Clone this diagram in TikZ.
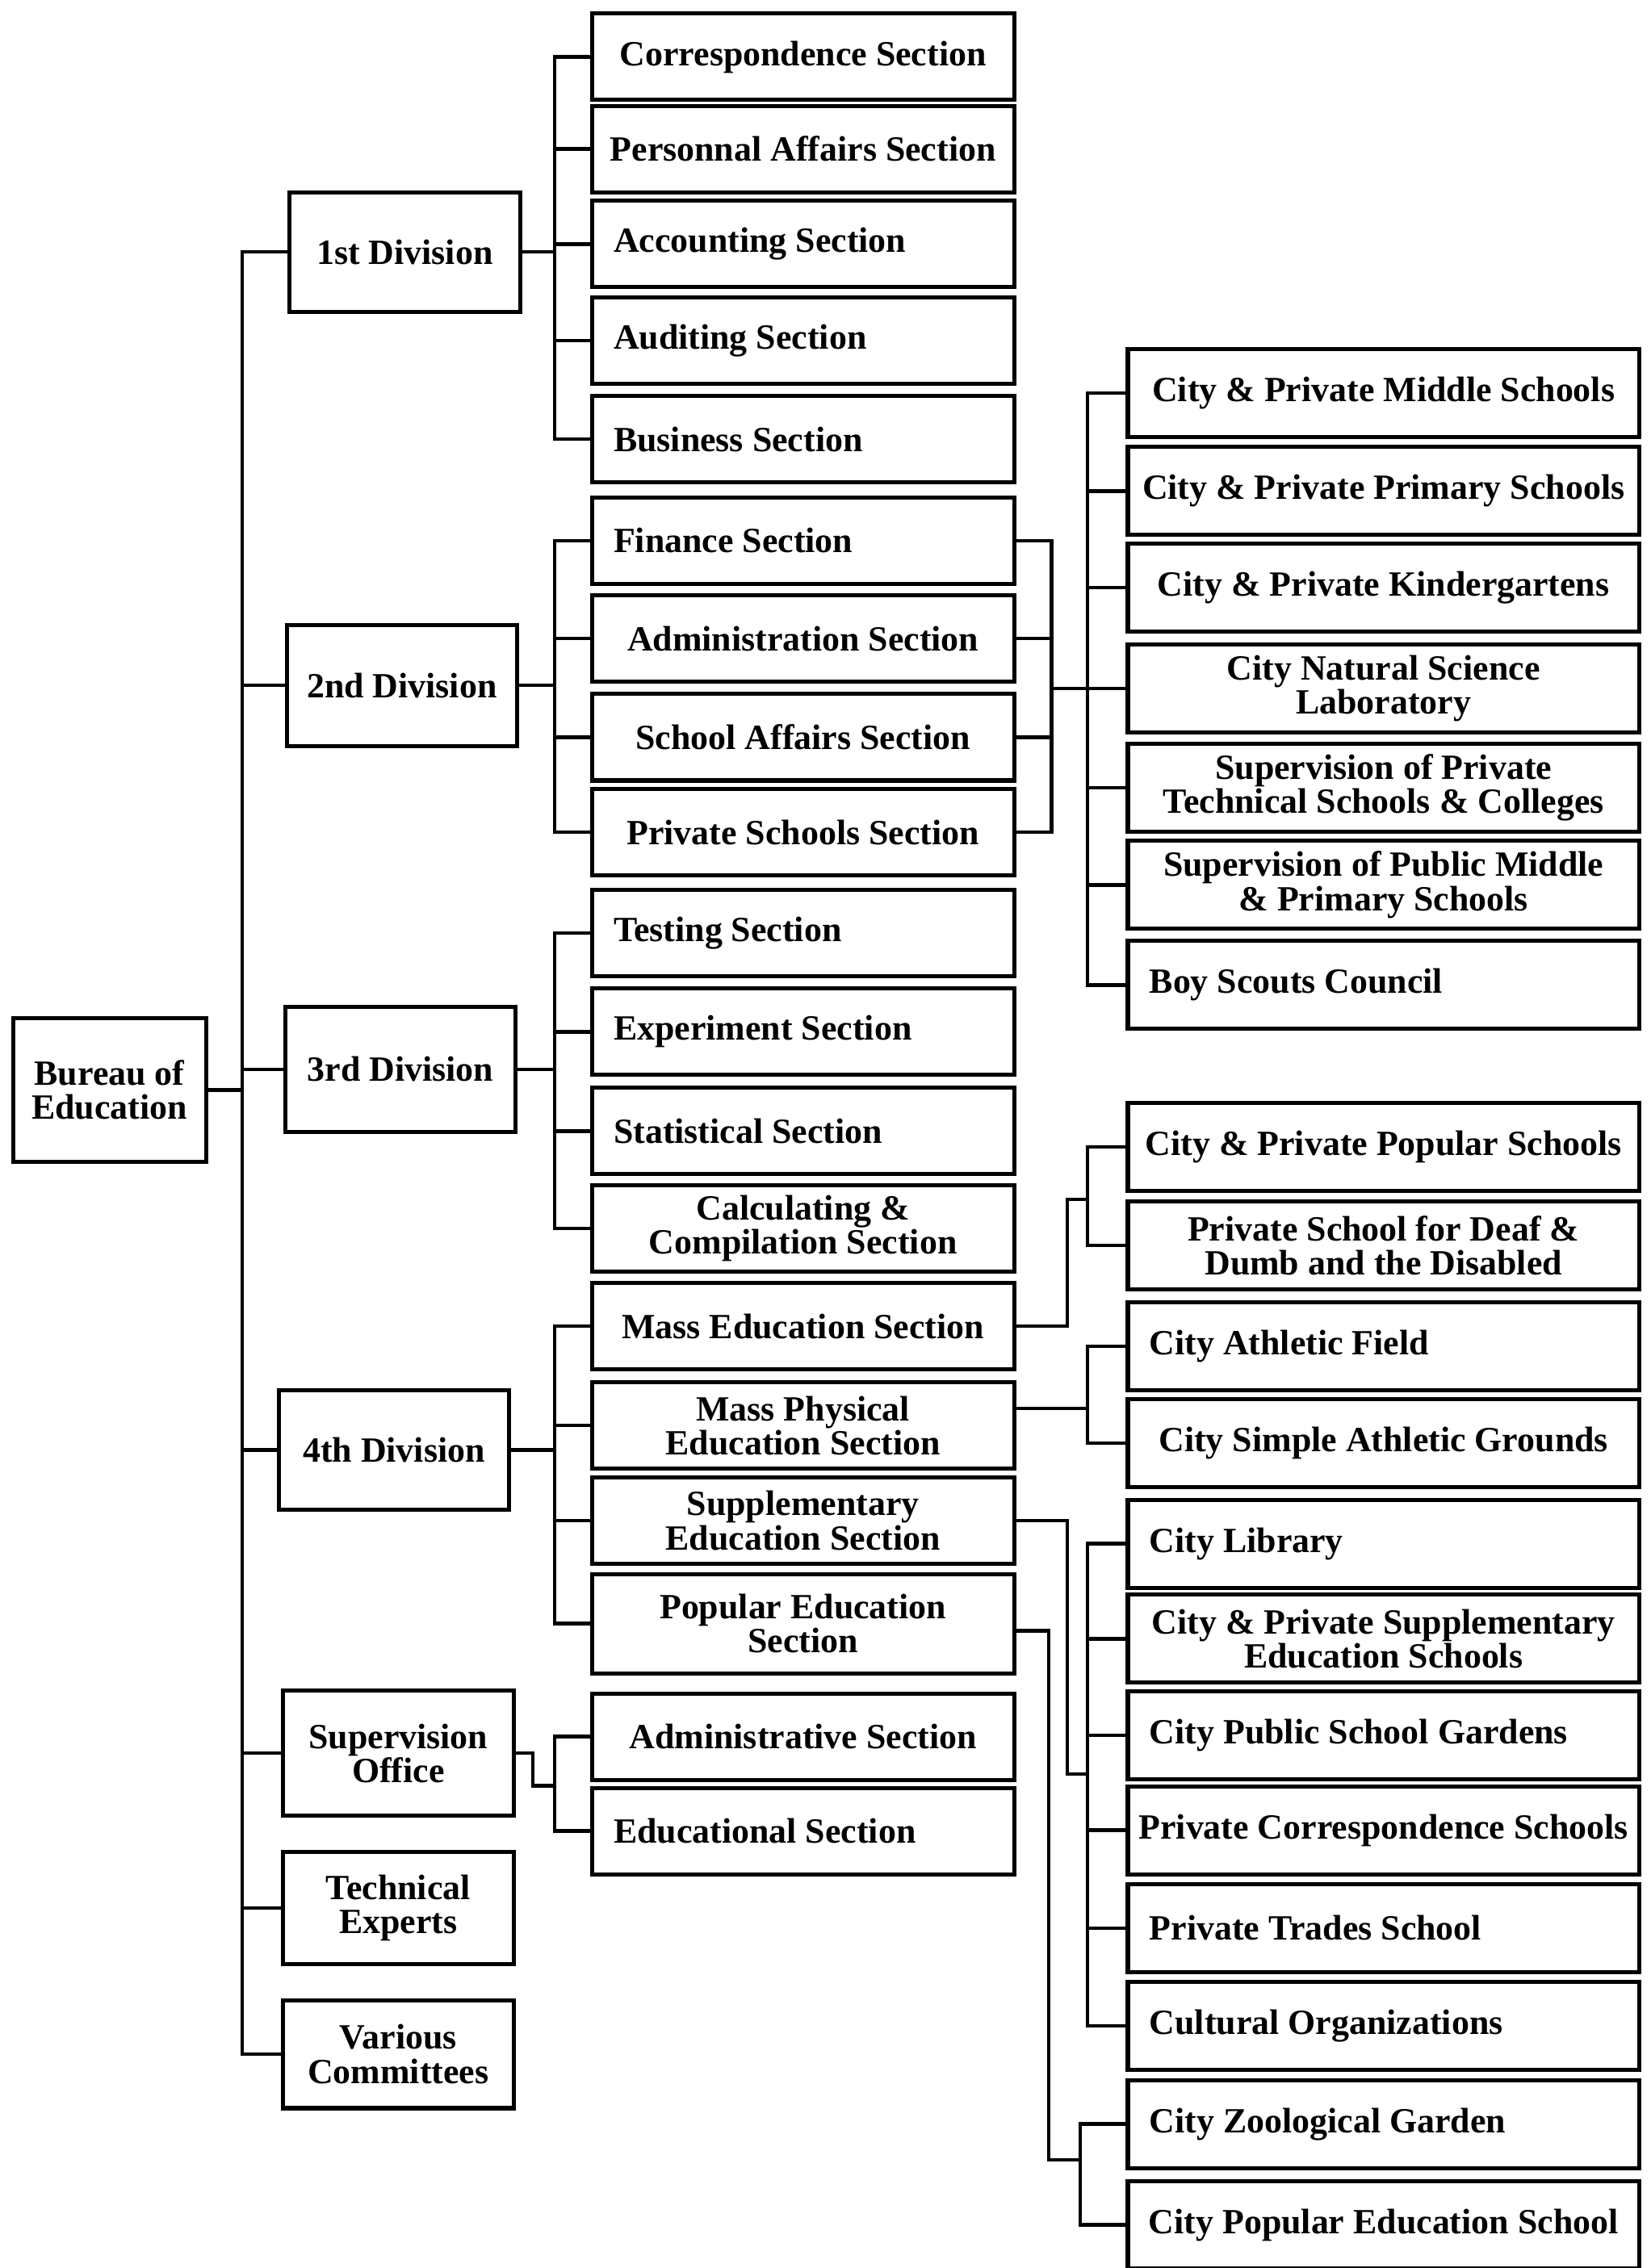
\documentclass[tikz,border=0pt]{standalone}
\usepackage{fontspec}
\setmainfont{Liberation Serif}
\usepackage{tikz}
\usetikzlibrary{calc,positioning}
\newcommand{\chartfont}{\bfseries\fontsize{14}{13.5}\selectfont}

\begin{document}
\begin{tikzpicture}[line width=1.4pt]
  \useasboundingbox (0,0) rectangle (22.92,-31.5);

  \tikzstyle{bnode} = [draw, line width=1.6pt, inner sep=0pt, align=center, font=\chartfont]
  \tikzstyle{dnode} = [bnode, minimum width=3.2cm, minimum height=1.66cm]
  \tikzstyle{snode} = [bnode, minimum width=5.86cm, minimum height=1.2cm]
  \tikzstyle{lsnode} = [snode, text width=5.26cm, align=flush left]
  \tikzstyle{unode} = [bnode, minimum width=7.1cm, minimum height=1.22cm]
  \tikzstyle{lunode} = [unode, text width=6.5cm, align=flush left]

  % bureau and divisions
  \node[bnode, minimum width=2.68cm, minimum height=2cm] (bur) at (1.52,-15.14) {Bureau of\\Education};

  \node[dnode] (div1) at (5.62,-3.50) {1st Division};
  \node[dnode, minimum height=1.68cm] (div2) at (5.58,-9.52) {2nd Division};
  \node[dnode, minimum height=1.74cm] (div3) at (5.56,-14.85) {3rd Division};
  \node[dnode] (div4) at (5.47,-20.14) {4th Division};
  \node[dnode, minimum height=1.74cm] (so) at (5.53,-24.35) {Supervision\\Office};
  \node[dnode, minimum height=1.56cm] (tech) at (5.53,-26.50) {Technical\\Experts};
  \node[dnode, minimum height=1.5cm] (var) at (5.53,-28.53) {Various\\Committees};

  % sections
  \node[snode] (corr) at (11.15,-0.79) {Correspondence Section};
  \node[snode] (pers) at (11.15,-2.07) {Personnal Affairs Section};
  \node[lsnode] (acc) at (11.15,-3.39) {Accounting Section};
  \node[lsnode] (aud) at (11.15,-4.73) {Auditing Section};
  \node[lsnode] (busi) at (11.15,-6.10) {Business Section};

  \node[lsnode] (fin) at (11.15,-7.51) {Finance Section};
  \node[snode] (adm) at (11.15,-8.87) {Administration Section};
  \node[snode] (saff) at (11.15,-10.24) {School Affairs Section};
  \node[snode] (psch) at (11.15,-11.56) {Private Schools Section};

  \node[lsnode] (test) at (11.15,-12.96) {Testing Section};
  \node[lsnode] (expt) at (11.15,-14.33) {Experiment Section};
  \node[lsnode] (stat) at (11.15,-15.71) {Statistical Section};
  \node[snode] (calc) at (11.15,-17.06) {Calculating \&\\Compilation Section};

  \node[snode] (mass) at (11.15,-18.42) {Mass Education Section};
  \node[snode] (mphys) at (11.15,-19.80) {Mass Physical\\Education Section};
  \node[snode] (supp) at (11.15,-21.12) {Supplementary\\Education Section};
  \node[snode, minimum height=1.38cm] (pop) at (11.15,-22.55) {Popular Education\\Section};

  \node[snode] (sadm) at (11.15,-24.12) {Administrative Section};
  \node[lsnode] (sedu) at (11.15,-25.43) {Educational Section};

  % units
  \node[unode] (cpm) at (19.21,-5.46) {City \& Private Middle Schools};
  \node[unode] (cpp) at (19.21,-6.82) {City \& Private Primary Schools};
  \node[unode] (cpk) at (19.21,-8.16) {City \& Private Kindergartens};
  \node[unode] (nsl) at (19.21,-9.56) {City Natural Science\\Laboratory};
  \node[unode] (spt) at (19.21,-10.94) {Supervision of Private\\Technical Schools \& Colleges};
  \node[unode] (spm) at (19.21,-12.29) {Supervision of Public Middle\\\& Primary Schools};
  \node[lunode] (bsc) at (19.21,-13.68) {Boy Scouts Council};

  \node[unode] (cpps) at (19.21,-15.93) {City \& Private Popular Schools};
  \node[unode] (deaf) at (19.21,-17.30) {Private School for Deaf \&\\Dumb and the Disabled};

  \node[lunode] (caf) at (19.21,-18.70) {City Athletic Field};
  \node[unode] (csag) at (19.21,-20.04) {City Simple Athletic Grounds};

  \node[lunode] (clib) at (19.21,-21.44) {City Library};
  \node[unode] (cpse) at (19.21,-22.76) {City \& Private Supplementary\\Education Schools};
  \node[lunode] (cpsg) at (19.21,-24.10) {City Public School Gardens};
  \node[unode] (pcs) at (19.21,-25.42) {Private Correspondence Schools};
  \node[lunode] (pts) at (19.21,-26.78) {Private Trades School};
  \node[lunode] (cult) at (19.21,-28.14) {Cultural Organizations};

  \node[lunode] (zoo) at (19.21,-29.50) {City Zoological Garden};
  \node[unode] (cpes) at (19.21,-30.90) {City Popular Education School};

  % bus points
  \coordinate (trunk) at (3.36,-15.14);
  \coordinate (b1) at (7.7,-3.50);
  \coordinate (b2) at (7.7,-9.52);
  \coordinate (b3) at (7.7,-14.85);
  \coordinate (b4) at (7.7,-20.14);
  \coordinate (sojog) at (7.4,-24.8);
  \coordinate (b5) at (7.7,-24.8);

  \coordinate (busa) at (14.6,-9.56);
  \coordinate (busb) at (15.1,-9.56);
  \coordinate (mejog) at (14.82,-16.66);
  \coordinate (meb) at (15.1,-16.66);
  \coordinate (mpb) at (15.1,-19.56);
  \coordinate (spjog) at (14.82,-24.64);
  \coordinate (spb) at (15.1,-24.64);
  \coordinate (pjog) at (14.56,-30.0);
  \coordinate (pb) at (15.0,-30.0);

  % trunk
  \draw[-] (bur.east) -- (trunk);
  \draw[-] (div1.west) -| (trunk);
  \draw[-] (div2.west) -| (trunk);
  \draw[-] (div3.west) -| (trunk);
  \draw[-] (div4.west) -| (trunk);
  \draw[-] (so.west) -| (trunk);
  \draw[-] (tech.west) -| (trunk);
  \draw[-] (var.west) -| (trunk);

  % divisions to sections
  \draw[-] (div1.east) -- (b1);
  \draw[-] (corr.west) -| (b1);
  \draw[-] (pers.west) -| (b1);
  \draw[-] (acc.west) -| (b1);
  \draw[-] (aud.west) -| (b1);
  \draw[-] (busi.west) -| (b1);

  \draw[-] (div2.east) -- (b2);
  \draw[-] (fin.west) -| (b2);
  \draw[-] (adm.west) -| (b2);
  \draw[-] (saff.west) -| (b2);
  \draw[-] (psch.west) -| (b2);

  \draw[-] (div3.east) -- (b3);
  \draw[-] (test.west) -| (b3);
  \draw[-] (expt.west) -| (b3);
  \draw[-] (stat.west) -| (b3);
  \draw[-] (calc.west) -| (b3);

  \draw[-] (div4.east) -- (b4);
  \draw[-] (mass.west) -| (b4);
  \draw[-] (mphys.west) -| (b4);
  \draw[-] (supp.west) -| (b4);
  \draw[-] (pop.west) -| (b4);

  \draw[-] (so.east) -| (sojog) -- (b5);
  \draw[-] (sadm.west) -| (b5);
  \draw[-] (sedu.west) -| (b5);

  % sections to units
  \draw[-] (fin.east) -| (busa);
  \draw[-] (adm.east) -| (busa);
  \draw[-] (saff.east) -| (busa);
  \draw[-] (psch.east) -| (busa);
  \draw[-] (busa) -- (nsl.west);
  \draw[-] (cpm.west) -| (busb);
  \draw[-] (cpp.west) -| (busb);
  \draw[-] (cpk.west) -| (busb);
  \draw[-] (spt.west) -| (busb);
  \draw[-] (spm.west) -| (busb);
  \draw[-] (bsc.west) -| (busb);

  \draw[-] (mass.east) -| (mejog) -- (meb);
  \draw[-] (cpps.west) -| (meb);
  \draw[-] (deaf.west) -| (meb);

  \draw[-] ([yshift=0.24cm]mphys.east) -- (mpb);
  \draw[-] (caf.west) -| (mpb);
  \draw[-] (csag.west) -| (mpb);

  \draw[-] (supp.east) -| (spjog) -- (spb);
  \draw[-] (clib.west) -| (spb);
  \draw[-] (cpse.west) -| (spb);
  \draw[-] (cpsg.west) -| (spb);
  \draw[-] (pcs.west) -| (spb);
  \draw[-] (pts.west) -| (spb);
  \draw[-] (cult.west) -| (spb);

  \draw[-] ([yshift=-0.1cm]pop.east) -| (pjog) -- (pb);
  \draw[-] (zoo.west) -| (pb);
  \draw[-] (cpes.west) -| (pb);

\end{tikzpicture}
\end{document}
